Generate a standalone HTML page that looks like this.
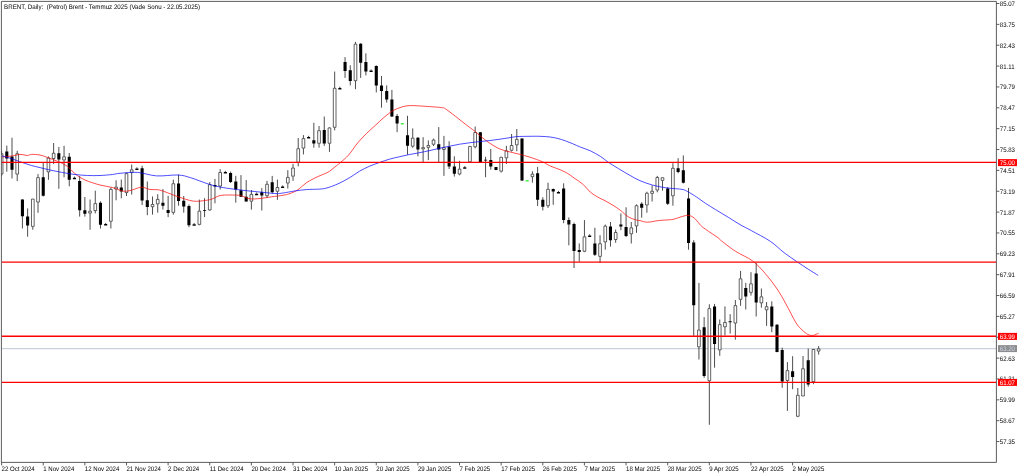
<!DOCTYPE html>
<html><head><meta charset="utf-8"><style>
html,body{margin:0;padding:0;background:#fff;width:1024px;height:476px;overflow:hidden;}
svg{display:block;will-change:transform;text-rendering:geometricPrecision;}
</style></head><body>
<svg width="1024" height="476" viewBox="0 0 1024 476"><defs><clipPath id="cp"><rect x="1.4" y="1.4" width="995.0" height="461.0"/></clipPath></defs>
<g clip-path="url(#cp)">
<path d="M1.4 348.7H996.4" stroke="#b4c0cc" stroke-width="0.9"/>
<path d="M1.6 150.5V153.4M1.6 174.4V176M6.8 145.6V171.7M12.01 137.7V178.5M17.21 150.8V153.4M17.21 174.4V181.1M22.42 199.4V228.5M27.62 208.4V236.7M32.82 198.7V198.8M32.82 226.7V229.8M38.03 174.1V177.3M38.03 202.4V212.8M43.23 163V196.5M48.44 156.5V157.7M48.44 172.2V179.8M53.64 143V153M53.64 158.8V164M58.84 147V188.8M64.05 145.8V156.5M64.05 160.3V177.3M69.25 153V186.3M79.66 176V216.6M84.86 197V216.6M90.07 199.5V210.9M90.07 213.4V229.8M95.27 190.7V203.3M95.27 210.9V213.4M100.48 201.4V228.5M110.88 187.5V189.1M110.88 221.6V228.5M116.09 180.3V186.8M116.09 189.4V200.3M121.29 179.6V198.3M126.5 172.7V173.3M126.5 192.9V196M131.7 164.5V169.5M131.7 172.7V194.6M142.11 165.8V205M147.31 181.5V215.2M152.52 196.5V204.2M152.52 207V214.6M157.72 194.2V199.1M157.72 204.2V212.7M162.92 189.1V209.5M168.13 195.8V217.1M173.33 179.6V183.4M173.33 212.7V214.6M178.54 174.6V205.7M183.74 196V212.7M188.94 204.5V227.2M199.35 199.6V210.8M199.35 224.7V225.3M204.56 198.2V217.1M209.76 182V184.3M209.76 210.3V210.8M214.96 178.9V203.3M220.17 169.1V172.2M220.17 186.4V189.5M230.58 171.6V183M235.78 175.8V202.7M240.98 175.1V196.9M246.19 180.1V201.6M251.39 190V194.1M251.39 201.5V209.6M261.8 188.1V210.5M267 180.9V184M267 196V197.9M272.21 175.9V193.5M277.41 179.6V187.2M277.41 191.6V199.8M287.82 170.2V177.1M287.82 183.4V188.5M293.02 163.9V167.7M293.02 176.5V180.9M298.23 138V148.4M298.23 162.6V166.4M303.43 135.1V138.3M303.43 148.4V154.4M313.84 122.8V147.7M319.04 126V130.4M319.04 143.6V147.7M324.25 116.5V145.9M329.45 127.2V127.6M329.45 143.6V151.9M334.66 71.6V88M334.66 127.6V130.4M345.06 57.1V77.9M350.27 65.3V85.4M355.47 41.9V43.8M355.47 81V89.2M360.68 43.2V77.9M365.88 53.3V75.4M376.29 65.3V92.4M381.49 76V107.7M386.7 85.4V102.6M391.9 89.9V117M397.1 114V132.2M407.51 115.8V154.7M412.72 128.4V137.8M412.72 146.5V147.8M417.92 137V156.3M423.12 137.2V147.3M423.12 149.2V162.1M428.33 140.4V145.2M428.33 147.7V160.2M433.53 138.5V139.7M433.53 144.6V146M438.74 127.1V162.1M443.94 135.9V147.4M443.94 149.8V175.9M449.14 141.2V169M454.35 156.3V176.6M459.55 160.8V168.8M459.55 174.3V175.3M469.96 146V146.1M469.96 162.1V162.5M475.16 126.5V132.2M475.16 147.1V148.4M480.37 132V162.5M485.57 156.8V177.2M490.78 148.9V169.6M495.98 167V170.2M501.18 156.8V157M501.18 171.5V172.5M506.39 145.8V150.6M506.39 158.2V164M511.59 134V145.2M511.59 150.6V151.6M516.8 129V139.1M516.8 145.2V151.3M522 138.4V181M532.41 171.3V173.9M532.41 177V182.7M537.61 166.9V206M542.82 197.2V210.4M548.02 182.7V189M548.02 206V207.9M553.22 188.5V204.8M563.63 183.3V223.2M568.84 217.5V245.3M574.04 222.6V268M579.24 243.4V261.7M584.45 220.1V236.5M584.45 251.6V252.2M594.86 227.7V256M600.06 235.2V243.4M600.06 256.7V263M605.26 224.5V225.8M605.26 242.2V249.7M610.47 222V246.6M615.67 229.5V232.2M615.67 239.8V242.8M620.88 213.4V230.2M626.08 207.3V237.1M631.28 222V227.5M631.28 234.1V243.5M636.49 204.3V205.4M636.49 226.2V232.8M641.69 202.2V217.7M646.9 191.7V192.9M646.9 205.3V212.7M652.1 185.4V191M652.1 193.7V201.5M657.3 175.9V177.2M657.3 190.4V192.3M662.51 177.3V177.4M662.51 180.7V190.6M667.71 187.2V205M672.92 163.2V168M672.92 196.1V205.7M678.12 158.2V173.3M683.32 155.4V183.5M688.53 187.9V249.7M693.73 240.2V335.8M698.94 282.9V329.7M698.94 347.2V359.5M704.14 317.1V377.8M709.34 304.3V308.3M709.34 381V424.8M714.55 303.9V367.7M719.75 319.5V324.3M719.75 350.2V355.8M724.96 306.4V322.2M724.96 327.1V335.5M730.16 314.2V333.6M735.36 300V305.3M735.36 323.4V339.7M740.57 270.9V278.5M740.57 299.7V305.8M745.77 282.9V309.5M750.98 272.2V283.5M750.98 292.7V295.6M756.18 262.7V316.5M761.38 288.5V296.5M761.38 303.2V307.7M766.59 302V306.4M766.59 310.2V325.9M771.79 301.3V332.2M777 324V352.3M782.2 347.7V387.8M787.4 362.1V370.3M787.4 380.8V410.9M792.61 356.2V389.2M797.81 388V395M797.81 416.6V417.2M803.02 356V368.4M808.22 348.6V386.7M813.42 348.9V349.2M813.42 381.9V384.1M818.63 346.1V348.5M818.63 351.4V354.6" stroke="#000" stroke-width="0.7" fill="none"/>
<path d="M5.25 151.5h3.1v7h-3.1zM10.46 156.5h3.1v13.2h-3.1zM20.87 199.5h3.1v16.8h-3.1zM26.07 216.6h3.1v8.8h-3.1zM41.68 177.3h3.1v18.5h-3.1zM57.29 153.3h3.1v6.3h-3.1zM67.7 156.7h3.1v23.1h-3.1zM78.11 181h3.1v29.3h-3.1zM83.31 210.3h3.1v3.5h-3.1zM98.93 202.7h3.1v22.1h-3.1zM119.74 187.4h3.1v4.1h-3.1zM140.56 168.3h3.1v32.2h-3.1zM145.76 200.3h3.1v6.7h-3.1zM161.37 202.8h3.1v2.9h-3.1zM166.58 209.9h3.1v3.1h-3.1zM176.99 183.4h3.1v17.7h-3.1zM182.19 200.8h3.1v5.7h-3.1zM187.39 205.9h3.1v19.4h-3.1zM203.01 209.9h3.1v0.8h-3.1zM213.41 185h3.1v1.4h-3.1zM229.03 172.9h3.1v9.1h-3.1zM234.23 181.4h3.1v8.1h-3.1zM239.43 190.2h3.1v6.5h-3.1zM244.64 196.7h3.1v4.7h-3.1zM260.25 192.3h3.1v3.3h-3.1zM270.66 182.2h3.1v10h-3.1zM312.29 140.2h3.1v3.4h-3.1zM322.7 130.1h3.1v13.5h-3.1zM343.51 62.1h3.1v8.8h-3.1zM348.72 70.3h3.1v10.7h-3.1zM359.13 43.8h3.1v18.9h-3.1zM364.33 62.1h3.1v9.5h-3.1zM374.74 65.9h3.1v19.5h-3.1zM379.94 85.4h3.1v5.7h-3.1zM385.15 91.1h3.1v8.4h-3.1zM390.35 99.5h3.1v17h-3.1zM395.55 115.9h3.1v7.5h-3.1zM405.96 135.3h3.1v10.4h-3.1zM416.37 137.8h3.1v11.8h-3.1zM437.19 144.2h3.1v5.2h-3.1zM447.59 146.8h3.1v19.7h-3.1zM452.8 166.5h3.1v7.3h-3.1zM478.82 132.2h3.1v29.9h-3.1zM484.02 159.8h3.1v0.8h-3.1zM489.23 159.9h3.1v6.6h-3.1zM494.43 167.1h3.1v2.9h-3.1zM520.45 138.5h3.1v42.1h-3.1zM536.06 173.2h3.1v26.5h-3.1zM541.27 199.7h3.1v7h-3.1zM551.67 189h3.1v2.5h-3.1zM562.08 188.4h3.1v31.7h-3.1zM567.29 220.1h3.1v4.4h-3.1zM572.49 223.9h3.1v27.1h-3.1zM577.69 250.1h3.1v1.8h-3.1zM593.31 243.4h3.1v11.4h-3.1zM608.92 226.4h3.1v13.9h-3.1zM619.33 224.5h3.1v1.9h-3.1zM624.53 227h3.1v8.9h-3.1zM640.14 203.7h3.1v4h-3.1zM666.16 188.5h3.1v15.2h-3.1zM676.57 168.3h3.1v3.8h-3.1zM681.77 170.2h3.1v12.6h-3.1zM686.98 198.4h3.1v44.6h-3.1zM692.18 242.4h3.1v62.9h-3.1zM702.59 327.2h3.1v48.7h-3.1zM713 306.4h3.1v37.7h-3.1zM728.61 321.2h3.1v1h-3.1zM744.22 287.9h3.1v8.6h-3.1zM754.63 273.4h3.1v29.2h-3.1zM770.24 306.4h3.1v20.2h-3.1zM775.45 324.7h3.1v27.3h-3.1zM780.65 349.9h3.1v31.7h-3.1zM791.06 371.3h3.1v5.7h-3.1zM806.67 360.2h3.1v24.3h-3.1z" fill="#000"/>
<path d="M0.26 153.71h2.68v20.38h-2.68zM15.87 153.71h2.68v20.38h-2.68zM31.48 199.11h2.68v27.28h-2.68zM36.69 177.61h2.68v24.48h-2.68zM47.1 158.01h2.68v13.88h-2.68zM52.3 153.31h2.68v5.18h-2.68zM62.71 156.81h2.68v3.18h-2.68zM88.73 211.21h2.68v1.88h-2.68zM93.93 203.61h2.68v6.98h-2.68zM109.54 189.41h2.68v31.88h-2.68zM114.75 187.11h2.68v1.98h-2.68zM125.16 173.61h2.68v18.98h-2.68zM130.36 169.81h2.68v2.58h-2.68zM151.18 204.51h2.68v2.18h-2.68zM156.38 199.41h2.68v4.48h-2.68zM171.99 183.71h2.68v28.68h-2.68zM198.01 211.11h2.68v13.28h-2.68zM208.42 184.61h2.68v25.38h-2.68zM218.83 172.51h2.68v13.58h-2.68zM250.05 194.41h2.68v6.78h-2.68zM265.66 184.31h2.68v11.38h-2.68zM276.07 187.51h2.68v3.78h-2.68zM286.48 177.41h2.68v5.68h-2.68zM291.68 168.01h2.68v8.18h-2.68zM296.89 148.71h2.68v13.58h-2.68zM302.09 138.61h2.68v9.48h-2.68zM317.7 130.71h2.68v12.58h-2.68zM328.11 127.91h2.68v15.38h-2.68zM333.32 88.31h2.68v38.98h-2.68zM354.13 44.11h2.68v36.58h-2.68zM411.38 138.11h2.68v8.08h-2.68zM421.78 147.61h2.68v1.28h-2.68zM426.99 145.51h2.68v1.88h-2.68zM432.19 140.01h2.68v4.28h-2.68zM442.6 147.71h2.68v1.78h-2.68zM458.21 169.11h2.68v4.88h-2.68zM468.62 146.41h2.68v15.38h-2.68zM473.82 132.51h2.68v14.28h-2.68zM499.84 157.31h2.68v13.88h-2.68zM505.05 150.91h2.68v6.98h-2.68zM510.25 145.51h2.68v4.78h-2.68zM515.46 139.41h2.68v5.48h-2.68zM531.07 174.21h2.68v2.48h-2.68zM546.68 189.31h2.68v16.38h-2.68zM583.11 236.81h2.68v14.48h-2.68zM598.72 243.71h2.68v12.68h-2.68zM603.92 226.11h2.68v15.78h-2.68zM614.33 232.51h2.68v6.98h-2.68zM629.94 227.81h2.68v5.98h-2.68zM635.15 205.71h2.68v20.18h-2.68zM645.56 193.21h2.68v11.78h-2.68zM650.76 191.31h2.68v2.08h-2.68zM655.96 177.51h2.68v12.58h-2.68zM661.17 177.71h2.68v2.68h-2.68zM671.58 168.31h2.68v27.48h-2.68zM697.6 330.01h2.68v16.88h-2.68zM708 308.61h2.68v72.08h-2.68zM718.41 324.61h2.68v25.28h-2.68zM723.62 322.51h2.68v4.28h-2.68zM734.02 305.61h2.68v17.48h-2.68zM739.23 278.81h2.68v20.58h-2.68zM749.64 283.81h2.68v8.58h-2.68zM760.04 296.81h2.68v6.08h-2.68zM765.25 306.71h2.68v3.18h-2.68zM786.06 370.61h2.68v9.88h-2.68zM796.47 395.31h2.68v20.98h-2.68zM801.68 368.71h2.68v27.28h-2.68zM812.08 349.51h2.68v32.08h-2.68zM817.29 348.81h2.68v2.28h-2.68z" fill="#fff" stroke="#000" stroke-width="0.62"/>
<path d="M72.91 177.8h3.1v1.5h-3.1zM104.13 224.1h3.1v1.5h-3.1zM135.35 168.5h3.1v1.5h-3.1zM192.6 224.2h3.1v1.5h-3.1zM223.82 172.1h3.1v1.5h-3.1zM255.05 193.7h3.1v1.5h-3.1zM281.07 186.5h3.1v1.5h-3.1zM307.09 137h3.1v1.5h-3.1zM338.31 87.9h3.1v1.5h-3.1zM369.53 70.6h3.1v1.5h-3.1zM463.21 167.3h3.1v1.5h-3.1zM556.88 192.1h3.1v1.5h-3.1zM588.1 235.4h3.1v1.5h-3.1z" fill="#000"/>
<path d="M74.46 176.6v1.3M105.68 222.9v1.3M136.9 167.3v1.3M194.15 223v1.3M225.37 170.9v1.3M256.6 192.5v1.3M282.62 185.3v1.3M308.64 135.8v1.3M339.86 86.7v1.3M371.08 69.4v1.3M464.76 166.1v1.3M558.43 190.9v1.3M589.65 234.2v1.3" stroke="#000" stroke-width="0.7"/>
<path d="M400.81 123h3v1.6h-3zM525.7 179.9h3v1.6h-3z" fill="#44ee44"/>
<path d="M2.1 157C2.8 156.92 4.72 156.67 6.3 156.5C7.88 156.33 9.85 156.25 11.6 156C13.35 155.75 15.23 155.27 16.8 155C18.37 154.73 19.25 154.32 21 154.4C22.75 154.48 25.55 155.5 27.3 155.5C29.05 155.5 29.38 154.48 31.5 154.4C33.62 154.32 37.33 154.48 40 155C42.67 155.52 44.58 156.45 47.5 157.5C50.42 158.55 54.17 159.83 57.5 161.3C60.83 162.77 64.58 164.22 67.5 166.3C70.42 168.38 72.08 171.52 75 173.8C77.92 176.08 80.83 178.13 85 180C89.17 181.87 95.42 183.75 100 185C104.58 186.25 108.75 186.5 112.5 187.5C116.25 188.5 119.58 190.48 122.5 191C125.42 191.52 126.85 191.23 130 190.6C133.15 189.97 138.07 187.38 141.4 187.2C144.73 187.02 147.27 189.08 150 189.5C152.73 189.92 155.3 189.32 157.8 189.7C160.3 190.08 161.63 190.63 165 191.8C168.37 192.97 173.32 195.15 178 196.7C182.68 198.25 188.47 200.48 193.1 201.1C197.73 201.72 202.57 200.78 205.8 200.4C209.03 200.02 209.98 199.63 212.5 198.8C215.02 197.97 216.98 196.02 220.9 195.4C224.82 194.78 232.48 195 236 195.1C239.52 195.2 239.67 195.38 242 196C244.33 196.62 247 198.38 250 198.8C253 199.22 256.4 198.83 260 198.5C263.6 198.17 267.75 197.33 271.6 196.8C275.45 196.27 280.22 195.78 283.1 195.3C285.98 194.82 286.97 194.52 288.9 193.9C290.83 193.28 292.97 192.47 294.7 191.6C296.43 190.73 297.38 190.15 299.3 188.7C301.22 187.25 304.08 184.43 306.2 182.9C308.32 181.37 310.07 180.55 312 179.5C313.93 178.45 315.68 177.57 317.8 176.6C319.92 175.63 322.77 174.57 324.7 173.7C326.63 172.83 327.67 172.55 329.4 171.4C331.13 170.25 333.33 168.22 335.1 166.8C336.87 165.38 337.72 164.9 340 162.9C342.28 160.9 345.87 158.12 348.8 154.8C351.73 151.48 354.65 146.55 357.6 143C360.55 139.45 363.55 136.43 366.5 133.5C369.45 130.57 372.37 128.1 375.3 125.4C378.23 122.7 381.17 119.75 384.1 117.3C387.03 114.85 389.95 112.42 392.9 110.7C395.85 108.98 398.85 107.85 401.8 107C404.75 106.15 406.7 105.72 410.6 105.6C414.5 105.48 420.03 105.97 425.2 106.3C430.37 106.63 438.23 107.18 441.6 107.6C444.97 108.02 443.08 107.33 445.4 108.8C447.72 110.27 451.98 113.7 455.5 116.4C459.02 119.1 463.35 122.58 466.5 125C469.65 127.42 471.93 128.93 474.4 130.9C476.87 132.87 478.83 134.82 481.3 136.8C483.77 138.78 486.23 140.82 489.2 142.8C492.17 144.78 495.8 147.22 499.1 148.7C502.4 150.18 505.72 150.8 509 151.7C512.28 152.6 515.3 153.18 518.8 154.1C522.3 155.02 526.03 155.92 530 157.2C533.97 158.48 539.23 160.33 542.6 161.8C545.97 163.27 547.25 164.67 550.2 166C553.15 167.33 557.37 168.55 560.3 169.8C563.23 171.05 565.5 172.13 567.8 173.5C570.1 174.87 571.57 176.2 574.1 178C576.63 179.8 580.3 181.95 583 184.3C585.7 186.65 587.83 189.97 590.3 192.1C592.77 194.23 595.28 195.63 597.8 197.1C600.32 198.57 602.87 199.53 605.4 200.9C607.93 202.27 610.48 203.72 613 205.3C615.52 206.88 617.98 208.5 620.5 210.4C623.02 212.3 625.57 215.13 628.1 216.7C630.63 218.27 633.72 219.15 635.7 219.8C637.68 220.45 638.02 220.2 640 220.6C641.98 221 644.45 222.22 647.6 222.2C650.75 222.18 654.92 220.93 658.9 220.5C662.88 220.07 668.35 220.03 671.5 219.6C674.65 219.17 675.48 218.57 677.8 217.9C680.12 217.23 683.3 215.95 685.4 215.6C687.5 215.25 688.72 215.2 690.4 215.8C692.08 216.4 693.82 217.63 695.5 219.2C697.18 220.77 698.82 223.52 700.5 225.2C702.18 226.88 702.63 227.18 705.6 229.3C708.57 231.42 715.83 236.12 718.3 237.9C720.77 239.68 717.53 237.77 720.4 240C723.27 242.23 730.13 247.82 735.5 251.3C740.87 254.78 747.65 257.2 752.6 260.9C757.55 264.6 761.12 268.82 765.2 273.5C769.28 278.18 773.65 283.93 777.1 289C780.55 294.07 782.75 298.27 785.9 303.9C789.05 309.53 793.28 318.45 796 322.8C798.72 327.15 800.23 328.07 802.2 330C804.17 331.93 806.02 333.5 807.8 334.4C809.58 335.3 811.1 335.6 812.9 335.4C814.7 335.2 817.65 333.57 818.6 333.2" fill="none" stroke="#ff0000" stroke-width="0.7"/>
<path d="M2.1 156C3.15 156.27 6.12 156.9 8.4 157.6C10.68 158.3 13.35 159.33 15.8 160.2C18.25 161.07 20.48 161.92 23.1 162.8C25.72 163.68 28.68 164.7 31.5 165.5C34.32 166.3 36.92 166.85 40 167.6C43.08 168.35 46.25 169.18 50 170C53.75 170.82 58.33 171.75 62.5 172.5C66.67 173.25 70.83 174 75 174.5C79.17 175 83.33 175.33 87.5 175.5C91.67 175.67 95.83 175.67 100 175.5C104.17 175.33 109.17 174.87 112.5 174.5C115.83 174.13 115.82 173.65 120 173.3C124.18 172.95 131.5 171.97 137.6 172.4C143.7 172.83 149.87 175.47 156.6 175.9C163.33 176.33 172.33 174.7 178 175C183.67 175.3 185.55 176.2 190.6 177.7C195.65 179.2 203.4 182.45 208.3 184C213.2 185.55 215.8 186.15 220 187C224.2 187.85 228.43 188.42 233.5 189.1C238.57 189.78 245.32 190.55 250.4 191.1C255.48 191.65 260.47 192.03 264 192.4C267.53 192.77 269.38 193.1 271.6 193.3C273.82 193.5 275.38 193.65 277.3 193.6C279.22 193.55 280.2 193.43 283.1 193C286 192.57 290.85 191.57 294.7 191C298.55 190.43 302.35 189.9 306.2 189.6C310.05 189.3 314.72 189.38 317.8 189.2C320.88 189.02 322.38 188.97 324.7 188.5C327.02 188.03 329.15 187.33 331.7 186.4C334.25 185.47 336.97 184.38 340 182.9C343.03 181.42 346.62 179.47 349.9 177.5C353.18 175.53 356.42 172.98 359.7 171.1C362.98 169.22 366.3 167.63 369.6 166.2C372.9 164.77 376.2 163.67 379.5 162.5C382.8 161.33 386.12 160.15 389.4 159.2C392.68 158.25 395.92 157.57 399.2 156.8C402.48 156.03 405.8 155.27 409.1 154.6C412.4 153.93 415.52 153.48 419 152.8C422.48 152.12 426.52 151.27 430 150.5C433.48 149.73 436.62 148.92 439.9 148.2C443.18 147.48 446.42 146.87 449.7 146.2C452.98 145.53 456.3 144.77 459.6 144.2C462.9 143.63 466.2 143.23 469.5 142.8C472.8 142.37 476.12 141.97 479.4 141.6C482.68 141.23 485.92 140.98 489.2 140.6C492.48 140.22 495.8 139.77 499.1 139.3C502.4 138.83 506.03 138.25 509 137.8C511.97 137.35 513.4 136.85 516.9 136.6C520.4 136.35 526.15 136.35 530 136.3C533.85 136.25 536.63 136.18 540 136.3C543.37 136.42 547.23 136.63 550.2 137C553.17 137.37 555.28 137.87 557.8 138.5C560.32 139.13 562.78 139.92 565.3 140.8C567.82 141.68 570.38 142.75 572.9 143.8C575.42 144.85 577.47 145.92 580.4 147.1C583.33 148.28 587.13 149.33 590.5 150.9C593.87 152.47 597.65 154.62 600.6 156.5C603.55 158.38 605.25 160.2 608.2 162.2C611.15 164.2 614.67 166.3 618.3 168.5C621.93 170.7 626.38 173.37 630 175.4C633.62 177.43 636.23 179.08 640 180.7C643.77 182.32 648.4 183.93 652.6 185.1C656.8 186.27 661.42 187.1 665.2 187.7C668.98 188.3 672.35 188.4 675.3 188.7C678.25 189 680.8 189 682.9 189.5C685 190 685.6 190.43 687.9 191.7C690.2 192.97 693.75 195.15 696.7 197.1C699.65 199.05 702.43 201.3 705.6 203.4C708.77 205.5 711.92 207.38 715.7 209.7C719.48 212.02 724.25 214.82 728.3 217.3C732.35 219.78 736.17 222.38 740 224.6C743.83 226.82 746.25 227.82 751.3 230.6C756.35 233.38 764.83 237.62 770.3 241.3C775.77 244.98 779.7 249.33 784.1 252.7C788.5 256.07 792.7 258.77 796.7 261.5C800.7 264.23 804.52 266.78 808.1 269.1C811.68 271.42 816.52 274.35 818.2 275.4" fill="none" stroke="#0000ff" stroke-width="0.7"/>
<path d="M1.4 162.35H996.4" stroke="#ff0000" stroke-width="1.35"/>
<path d="M1.4 262.1H996.4" stroke="#ff0000" stroke-width="1.35"/>
<path d="M1.4 336.25H996.4" stroke="#ff0000" stroke-width="1.35"/>
<path d="M1.4 382.35H996.4" stroke="#ff0000" stroke-width="1.35"/>
</g>
<path d="M1.4 1.4H996.4V462.4H1.4Z" fill="none" stroke="#4a4a4a" stroke-width="0.9"/>
<path d="M996.4 3.5h3M996.4 24.36h3M996.4 45.22h3M996.4 66.08h3M996.4 86.94h3M996.4 107.8h3M996.4 128.66h3M996.4 149.52h3M996.4 170.38h3M996.4 191.24h3M996.4 212.1h3M996.4 232.96h3M996.4 253.82h3M996.4 274.68h3M996.4 295.54h3M996.4 316.4h3M996.4 337.26h3M996.4 358.12h3M996.4 378.98h3M996.4 399.84h3M996.4 420.7h3M996.4 441.56h3M1.6 462.4v3M43.23 462.4v3M84.86 462.4v3M126.49 462.4v3M168.12 462.4v3M209.75 462.4v3M251.38 462.4v3M293.01 462.4v3M334.64 462.4v3M376.27 462.4v3M417.9 462.4v3M459.53 462.4v3M501.16 462.4v3M542.79 462.4v3M584.42 462.4v3M626.05 462.4v3M667.68 462.4v3M709.31 462.4v3M750.94 462.4v3M792.57 462.4v3" stroke="#4a4a4a" stroke-width="0.9"/>
<g font-family='"Liberation Sans", sans-serif' font-size="6.6" fill="#000" stroke="#000" stroke-width="0.0" transform="scale(0.92,1)"><text x="1086.74" y="6">85.07</text><text x="1086.74" y="26.86">83.75</text><text x="1086.74" y="47.72">82.43</text><text x="1086.74" y="68.58">81.11</text><text x="1086.74" y="89.44">79.79</text><text x="1086.74" y="110.3">78.47</text><text x="1086.74" y="131.16">77.15</text><text x="1086.74" y="152.02">75.83</text><text x="1086.74" y="172.88">74.51</text><text x="1086.74" y="193.74">73.19</text><text x="1086.74" y="214.6">71.87</text><text x="1086.74" y="235.46">70.55</text><text x="1086.74" y="256.32">69.23</text><text x="1086.74" y="277.18">67.91</text><text x="1086.74" y="298.04">66.59</text><text x="1086.74" y="318.9">65.27</text><text x="1086.74" y="339.76">63.95</text><text x="1086.74" y="360.62">62.63</text><text x="1086.74" y="381.48">61.31</text><text x="1086.74" y="402.34">59.99</text><text x="1086.74" y="423.2">58.67</text><text x="1086.74" y="444.06">57.35</text><text x="1.74" y="471.0">22 Oct 2024</text><text x="46.99" y="471.0">1 Nov 2024</text><text x="92.24" y="471.0">12 Nov 2024</text><text x="137.49" y="471.0">21 Nov 2024</text><text x="182.74" y="471.0">2 Dec 2024</text><text x="227.99" y="471.0">11 Dec 2024</text><text x="273.24" y="471.0">20 Dec 2024</text><text x="318.49" y="471.0">31 Dec 2024</text><text x="363.74" y="471.0">10 Jan 2025</text><text x="408.99" y="471.0">20 Jan 2025</text><text x="454.24" y="471.0">29 Jan 2025</text><text x="499.49" y="471.0">7 Feb 2025</text><text x="544.74" y="471.0">17 Feb 2025</text><text x="589.99" y="471.0">26 Feb 2025</text><text x="635.24" y="471.0">7 Mar 2025</text><text x="680.49" y="471.0">18 Mar 2025</text><text x="725.74" y="471.0">28 Mar 2025</text><text x="770.99" y="471.0">9 Apr 2025</text><text x="816.24" y="471.0">22 Apr 2025</text><text x="861.49" y="471.0">2 May 2025</text></g>
<g font-family='"Liberation Sans", sans-serif' font-size="6.6"><rect x="998" y="159.1" width="19" height="7" fill="#ff0000"/><text x="1086.74" y="165.1" fill="#fff" stroke="#fff" stroke-width="0.0" transform="scale(0.92,1)">75.00</text><rect x="998" y="332.9" width="19" height="7" fill="#ff0000"/><text x="1086.74" y="338.9" fill="#fff" stroke="#fff" stroke-width="0.0" transform="scale(0.92,1)">63.99</text><rect x="998" y="345.1" width="19" height="7" fill="#8c8c8c"/><text x="1086.74" y="351.1" fill="#d0d8f0" stroke="#d0d8f0" stroke-width="0.0" transform="scale(0.92,1)">63.20</text><rect x="998" y="378.9" width="19" height="7" fill="#ff0000"/><text x="1086.74" y="384.9" fill="#fff" stroke="#fff" stroke-width="0.0" transform="scale(0.92,1)">61.07</text></g>
<text x="4.1" y="8.8" font-family='"Liberation Sans", sans-serif' font-size="6.6" fill="#000" stroke="#000" stroke-width="0.0" textLength="196" lengthAdjust="spacingAndGlyphs" xml:space="preserve">BRENT, Daily:  (Petrol) Brent - Temmuz 2025 (Vade Sonu - 22.05.2025)</text></svg>
</body></html>
